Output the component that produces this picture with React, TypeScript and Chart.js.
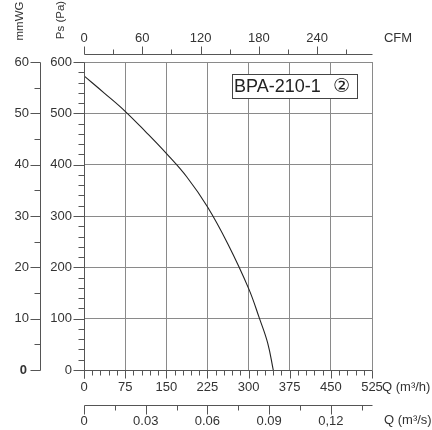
import React, { useEffect, useRef } from "react";
import { Chart, registerables } from "chart.js";

Chart.register(...registerables);

// ---- data ----
const flowM3h = [0, 37.5, 75, 112.5, 150, 187.5, 225, 262.5, 300, 320, 335, 345];
const pressurePa = [573, 539, 504, 464, 422, 376, 318, 245, 159, 100, 52, 0];

const flowTicks = [0, 75, 150, 225, 300, 375, 450, 525];
const paTicks = [0, 100, 200, 300, 400, 500, 600];
const mmwgTicks = [0, 10, 20, 30, 40, 50, 60];
const cfmTicks = [0, 60, 120, 180, 240];
const qsTicks = [0, 0.03, 0.06, 0.09, 0.12];
const qsLabels = ["0", "0.03", "0.06", "0.09", "0,12"];

const modelLabel = "BPA-210-1";
const curveMark = "②";

const FLOW_MAX = 525;
const PA_MAX = 600;
const MMWG_MAX = 60;
const CFM_MAX = 296.6;
const QS_MAX = 0.14;

const FONT = "'Liberation Sans', Arial, Helvetica, sans-serif";
const AXIS = "#555555";
const GRID = "#8a8a8a";
const TEXT = "#333333";
const FS = 13;

const px = (v: number) => Math.round(v) + 0.5;

const axesPlugin = {
  id: "fanAxes",
  afterDraw(chart: any) {
    const { ctx, chartArea: a, scales } = chart;
    const xs = scales.x, ys = scales.y, mm = scales.mmwg, cf = scales.cfm, qs = scales.qs;
    ctx.save();
    ctx.strokeStyle = AXIS;
    ctx.lineWidth = 1;
    const line = (x1: number, y1: number, x2: number, y2: number) => {
      ctx.beginPath();
      ctx.moveTo(x1, y1);
      ctx.lineTo(x2, y2);
      ctx.stroke();
    };
    const text = (s: string, x: number, y: number, align: CanvasTextAlign, font = `${FS}px ${FONT}`) => {
      ctx.font = font;
      ctx.fillStyle = TEXT;
      ctx.textAlign = align;
      ctx.textBaseline = "middle";
      ctx.fillText(s, x, y);
    };

    // Pa axis
    const xa = px(a.left);
    line(xa, px(a.top), xa, px(a.bottom) + 8);
    for (let v = 0; v <= PA_MAX; v += 20) {
      const yy = px(ys.getPixelForValue(v));
      line(xa - (v % 100 === 0 ? 11 : 6), yy, xa, yy);
    }
    paTicks.forEach((v) => text(String(v), 72, ys.getPixelForValue(v), "right"));

    // mmWG axis
    const xm = 40.5;
    line(xm, px(mm.getPixelForValue(MMWG_MAX)), xm, px(mm.getPixelForValue(0)));
    for (let v = 0; v <= MMWG_MAX; v += 5) {
      const yy = px(mm.getPixelForValue(v));
      line(xm - (v % 10 === 0 ? 10 : 6), yy, xm, yy);
    }
    mmwgTicks.forEach((v) =>
      text(String(v), v === 0 ? 27 : 29, mm.getPixelForValue(v), "right", v === 0 ? `bold ${FS}px ${FONT}` : `${FS}px ${FONT}`)
    );

    // bottom m3/h axis
    const yb = px(a.bottom);
    line(xa, yb, px(a.right), yb);
    for (let v = 0; v <= FLOW_MAX; v += 15) {
      const xx = px(xs.getPixelForValue(v));
      line(xx, yb, xx, yb + (v % 75 === 0 ? 8 : 5));
    }
    flowTicks.forEach((v) => text(String(v), xs.getPixelForValue(v), 387, "center"));
    text("Q (m³/h)", 382, 387, "left");

    // bottom m3/s axis
    const yq = 405.5;
    line(px(qs.getPixelForValue(0)), yq, px(qs.getPixelForValue(QS_MAX)), yq);
    for (let i = 0; i <= 9; i++) {
      const xx = px(qs.getPixelForValue(i * 0.015));
      line(xx, yq, xx, yq + (i % 2 === 0 ? 9 : 5));
    }
    qsTicks.forEach((v, i) => text(qsLabels[i], qs.getPixelForValue(v), 421, "center"));
    text("Q (m³/s)", 384, 420, "left");

    // top CFM axis
    const yc = 54.5;
    line(px(cf.getPixelForValue(0)), yc, px(cf.getPixelForValue(CFM_MAX)), yc);
    for (let v = 0; v <= 270; v += 30) {
      const xx = px(cf.getPixelForValue(v));
      line(xx, yc, xx, yc - (v % 60 === 0 ? 8 : 5));
    }
    cfmTicks.forEach((v) => text(String(v), cf.getPixelForValue(v), 38, "center"));
    text("CFM", 398, 38, "center");

    // rotated titles
    const rot = (s: string, x: number, y: number) => {
      ctx.save();
      ctx.translate(x, y);
      ctx.rotate(-Math.PI / 2);
      text(s, 0, 0, "center", `11.5px ${FONT}`);
      ctx.restore();
    };
    rot("mmWG", 19.5, 21);
    rot("Ps (Pa)", 60.5, 20);

    // model label box
    ctx.fillStyle = "#ffffff";
    ctx.fillRect(232.5, 74.5, 125, 24);
    ctx.strokeStyle = "#444444";
    ctx.strokeRect(232.5, 74.5, 125, 24);
    ctx.font = `18px ${FONT}`;
    ctx.fillStyle = "#222222";
    ctx.textAlign = "left";
    ctx.textBaseline = "middle";
    ctx.fillText(modelLabel, 234, 87);
    ctx.font = `19px 'DejaVu Sans', 'Noto Sans CJK JP', sans-serif`;
    ctx.textAlign = "center";
    ctx.fillText(curveMark, 341.5, 87);

    ctx.restore();
  },
};

export default function App() {
  const ref = useRef<HTMLCanvasElement | null>(null);

  useEffect(() => {
    if (!ref.current) return;
    const zeroW = (s: any) => { s.width = 0; };
    const zeroH = (s: any) => { s.height = 0; };
    const chart = new Chart(ref.current, {
      type: "line",
      data: {
        datasets: [
          {
            data: flowM3h.map((q, i) => ({ x: q, y: pressurePa[i] })),
            borderColor: "#222222",
            borderWidth: 1.1,
            pointRadius: 0,
            tension: 0.4,
            fill: false,
          },
        ],
      },
      options: {
        responsive: false,
        animation: false,
        events: [],
        layout: { padding: { left: 84, top: 62, right: 60, bottom: 60 } },
        plugins: { legend: { display: false }, tooltip: { enabled: false } },
        scales: {
          x: {
            type: "linear",
            position: "bottom",
            min: 0,
            max: FLOW_MAX,
            afterFit: zeroH,
            afterBuildTicks: (s: any) => { s.ticks = flowTicks.map((v) => ({ value: v })); },
            ticks: { display: false },
            border: { display: false },
            grid: { color: GRID, lineWidth: 1, drawTicks: false },
          },
          y: {
            type: "linear",
            position: "left",
            min: 0,
            max: PA_MAX,
            afterFit: zeroW,
            afterBuildTicks: (s: any) => { s.ticks = paTicks.map((v) => ({ value: v })); },
            ticks: { display: false },
            border: { display: false },
            grid: { color: GRID, lineWidth: 1, drawTicks: false },
          },
          mmwg: { type: "linear", axis: "y", position: "left", min: 0, max: MMWG_MAX, display: false },
          cfm: { type: "linear", axis: "x", position: "top", min: 0, max: CFM_MAX, display: false },
          qs: { type: "linear", axis: "x", position: "bottom", min: 0, max: QS_MAX, display: false },
        },
      } as any,
      plugins: [axesPlugin],
    });
    return () => chart.destroy();
  }, []);

  return (
    <div style={{ position: "absolute", left: 0, top: 0, width: 432, height: 430, background: "#fff" }}>
      <canvas ref={ref} width={432} height={430} style={{ display: "block" }} />
    </div>
  );
}
